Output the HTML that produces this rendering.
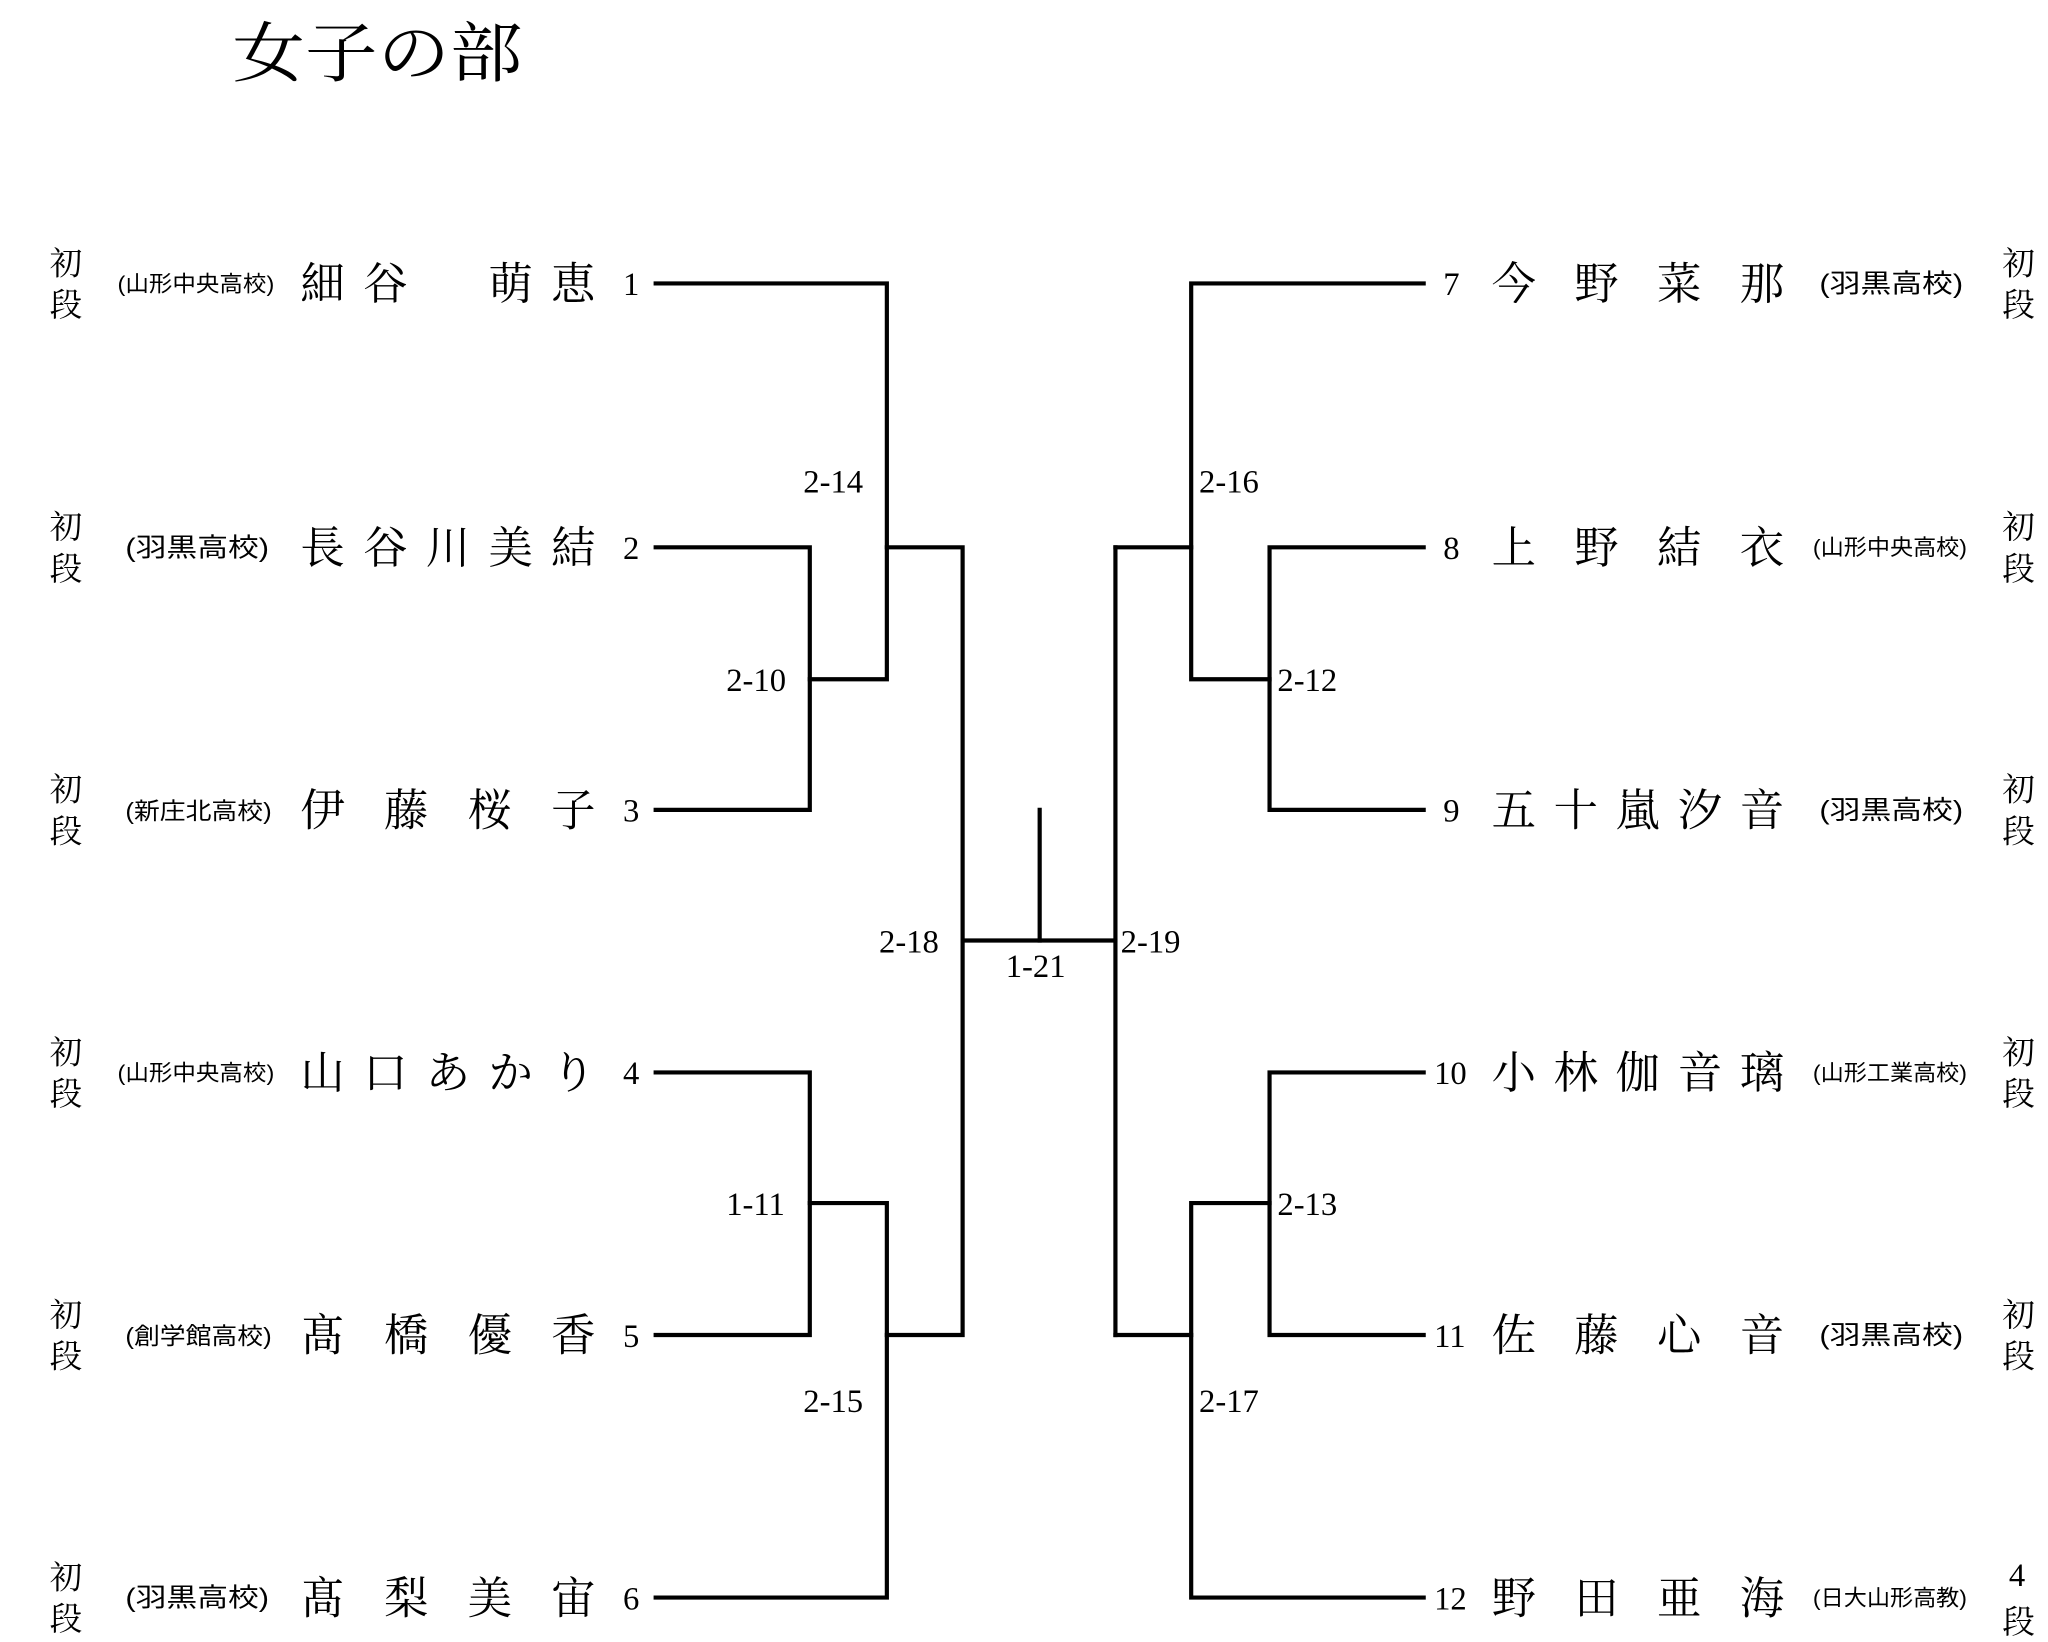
<!DOCTYPE html>
<html><head><meta charset="utf-8"><style>
html,body{margin:0;padding:0;background:#fff;}
svg{display:block;}
text{font-family:"Liberation Serif","Noto Serif CJK SC","Noto Serif CJK JP",serif;fill:#000;}
.n{font-size:34px;}
.s{font-family:"Liberation Sans","Noto Sans CJK JP",sans-serif;font-size:17px;}
.d{font-size:25px;}
.l{font-size:25px;}
.num{font-size:25px;}
</style></head><body>
<svg width="2048" height="1642" viewBox="0 0 1568 1257" preserveAspectRatio="none" xmlns="http://www.w3.org/2000/svg">
<text x="178" y="58" style="font-size:50px" textLength="222" lengthAdjust="spacingAndGlyphs">女子の部</text>
<g stroke="#000" stroke-width="3.2" fill="none" stroke-linecap="square">
<!-- left top -->
<path d="M502 217H679V520H620"/>
<path d="M502 419H620V620H502"/>
<path d="M679 419H737V1022H679"/>
<path d="M502 821H620V1022H502"/>
<path d="M620 921H679V1223H502"/>
<!-- center -->
<path d="M737 720H854"/>
<path d="M796 620V720"/>
<!-- right -->
<path d="M854 419V1022"/>
<path d="M854 419H912"/>
<path d="M854 1022H912"/>
<path d="M1090 217H912V520H972"/>
<path d="M1090 419H972V620H1090"/>
<path d="M1090 821H972V1022H1090"/>
<path d="M972 921H912V1223H1090"/>
</g>
<!-- labels -->
<g class="l">
<text x="615" y="377">2-14</text>
<text x="556" y="529">2-10</text>
<text x="673" y="729">2-18</text>
<text x="770" y="748">1-21</text>
<text x="858" y="729">2-19</text>
<text x="918" y="377">2-16</text>
<text x="978" y="529">2-12</text>
<text x="556" y="930">1-11</text>
<text x="615" y="1081">2-15</text>
<text x="978" y="930">2-13</text>
<text x="918" y="1081">2-17</text>
</g>
<!-- left rows -->
<g>
<text class="d" x="38" y="210">初</text><text class="d" x="38" y="242">段</text>
<text class="s" x="90" y="223" textLength="120" lengthAdjust="spacingAndGlyphs">(山形中央高校)</text>
<text class="n" x="230" y="229" textLength="226" lengthAdjust="spacing">細谷　萌恵</text>
<text class="num" x="477" y="226">1</text>

<text class="d" x="38" y="412">初</text><text class="d" x="38" y="444">段</text>
<text class="s" x="96" y="426" textLength="110" lengthAdjust="spacingAndGlyphs" style="font-size:20px">(羽黒高校)</text>
<text class="n" x="230" y="431" textLength="226" lengthAdjust="spacing">長谷川美結</text>
<text class="num" x="477" y="428">2</text>

<text class="d" x="38" y="613">初</text><text class="d" x="38" y="645">段</text>
<text class="s" x="96" y="627" textLength="112" lengthAdjust="spacingAndGlyphs" style="font-size:18px">(新庄北高校)</text>
<text class="n" x="230" y="632" textLength="226" lengthAdjust="spacing">伊藤桜子</text>
<text class="num" x="477" y="629">3</text>

<text class="d" x="38" y="814">初</text><text class="d" x="38" y="846">段</text>
<text class="s" x="90" y="827" textLength="120" lengthAdjust="spacingAndGlyphs">(山形中央高校)</text>
<text class="n" x="230" y="833" textLength="226" lengthAdjust="spacing">山口あかり</text>
<text class="num" x="477" y="830">4</text>

<text class="d" x="38" y="1015">初</text><text class="d" x="38" y="1047">段</text>
<text class="s" x="96" y="1029" textLength="112" lengthAdjust="spacingAndGlyphs" style="font-size:18px">(創学館高校)</text>
<text class="n" x="230" y="1034" textLength="226" lengthAdjust="spacing">髙橋優香</text>
<text class="num" x="477" y="1031">5</text>

<text class="d" x="38" y="1216">初</text><text class="d" x="38" y="1248">段</text>
<text class="s" x="96" y="1230" textLength="110" lengthAdjust="spacingAndGlyphs" style="font-size:20px">(羽黒高校)</text>
<text class="n" x="230" y="1235" textLength="226" lengthAdjust="spacing">髙梨美宙</text>
<text class="num" x="477" y="1232">6</text>
</g>
<!-- right rows -->
<g>
<text class="num" x="1105" y="226">7</text>
<text class="n" x="1142" y="229" textLength="224" lengthAdjust="spacing">今野菜那</text>
<text class="s" x="1393" y="224" textLength="110" lengthAdjust="spacingAndGlyphs" style="font-size:20px">(羽黒高校)</text>
<text class="d" x="1533" y="210">初</text><text class="d" x="1533" y="242">段</text>

<text class="num" x="1105" y="428">8</text>
<text class="n" x="1142" y="431" textLength="224" lengthAdjust="spacing">上野結衣</text>
<text class="s" x="1388" y="425" textLength="118" lengthAdjust="spacingAndGlyphs">(山形中央高校)</text>
<text class="d" x="1533" y="412">初</text><text class="d" x="1533" y="444">段</text>

<text class="num" x="1105" y="629">9</text>
<text class="n" x="1142" y="632" textLength="224" lengthAdjust="spacing">五十嵐汐音</text>
<text class="s" x="1393" y="627" textLength="110" lengthAdjust="spacingAndGlyphs" style="font-size:20px">(羽黒高校)</text>
<text class="d" x="1533" y="613">初</text><text class="d" x="1533" y="645">段</text>

<text class="num" x="1098" y="830">10</text>
<text class="n" x="1142" y="833" textLength="224" lengthAdjust="spacing">小林伽音璃</text>
<text class="s" x="1388" y="827" textLength="118" lengthAdjust="spacingAndGlyphs">(山形工業高校)</text>
<text class="d" x="1533" y="814">初</text><text class="d" x="1533" y="846">段</text>

<text class="num" x="1098" y="1031">11</text>
<text class="n" x="1142" y="1034" textLength="224" lengthAdjust="spacing">佐藤心音</text>
<text class="s" x="1393" y="1029" textLength="110" lengthAdjust="spacingAndGlyphs" style="font-size:20px">(羽黒高校)</text>
<text class="d" x="1533" y="1015">初</text><text class="d" x="1533" y="1047">段</text>

<text class="num" x="1098" y="1232">12</text>
<text class="n" x="1142" y="1235" textLength="224" lengthAdjust="spacing">野田亜海</text>
<text class="s" x="1388" y="1229" textLength="118" lengthAdjust="spacingAndGlyphs">(日大山形高教)</text>
<text class="d" x="1538" y="1214">4</text><text class="d" x="1533" y="1250">段</text>
</g>
</svg>
</body></html>
